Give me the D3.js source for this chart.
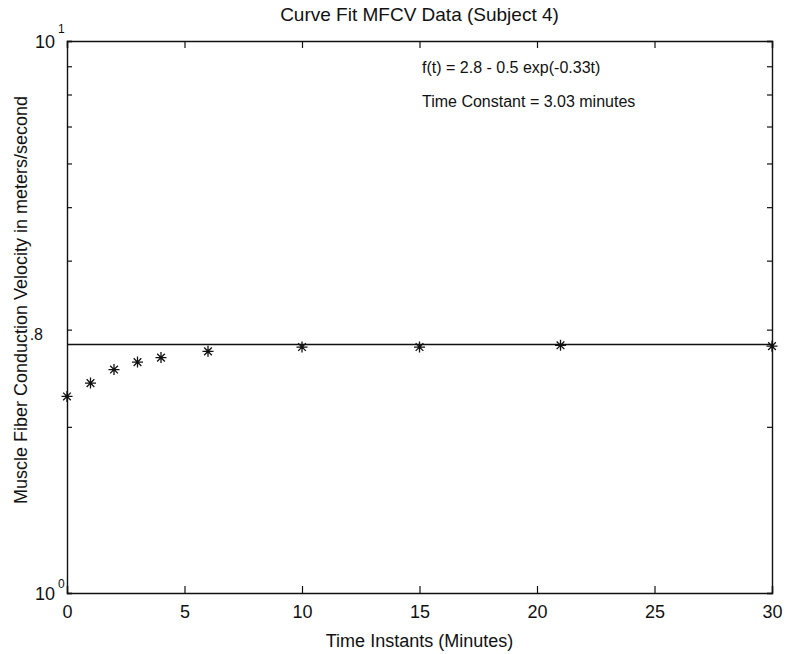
<!DOCTYPE html>
<html><head><meta charset="utf-8">
<script src="https://cdn.jsdelivr.net/npm/d3@7"></script>
<style>body{margin:0;background:#fff;} svg{display:block;} text{font-family:"Liberation Sans",Arial,sans-serif;fill:#111;}</style>
</head><body>
<svg id="c" width="786" height="654"></svg>
<script>
const time = [0, 1, 2, 3, 4, 6, 10, 15, 21, 30];
const mfcv = [2.27, 2.40, 2.54, 2.62, 2.67, 2.74, 2.79, 2.79, 2.81, 2.80];
const fitTime = [0, 30];
const fitValue = [2.82, 2.82];
const xTicks = [0, 5, 10, 15, 20, 25, 30];
const yTicks = [1, 2, 3, 4, 5, 6, 7, 8, 9, 10];
const yMajor = [{v: 1, exp: "0"}, {v: 10, exp: "1"}];
const titleText = "Curve Fit MFCV Data (Subject 4)";
const xLabel = "Time Instants (Minutes)";
const yLabel = "Muscle Fiber Conduction Velocity in meters/second";
const notes = ["f(t) = 2.8 - 0.5 exp(-0.33t)", "Time Constant = 3.03 minutes"];
const markValue = 2.8, markText = ".8";

const svg = d3.select("#c");
svg.append("rect").attr("width",786).attr("height",654).attr("fill","#fff");
const L = 67, R = 772, T = 41, B = 593;
const x = d3.scaleLinear().domain([0, 30]).range([L, R]);
const y = d3.scaleLog().domain([1, 10]).range([B, T]);

// axes with inward ticks
const gB = svg.append("g").attr("transform",`translate(0,${B})`)
  .call(d3.axisBottom(x).tickValues(xTicks).tickSize(-7).tickPadding(12).tickFormat(d3.format("d")));
const gT = svg.append("g").attr("transform",`translate(0,${T})`)
  .call(d3.axisTop(x).tickValues(xTicks).tickSize(-7).tickFormat(""));
const gL = svg.append("g").attr("transform",`translate(${L},0)`)
  .call(d3.axisLeft(y).tickValues(yTicks).tickSize(-5).tickFormat(""));
const gR = svg.append("g").attr("transform",`translate(${R},0)`)
  .call(d3.axisRight(y).tickValues(yTicks).tickSize(-5).tickFormat(""));
[gB,gT,gL,gR].forEach(g=>{
  g.select(".domain").attr("stroke","#111").attr("stroke-width",1.4);
  g.selectAll(".tick line").attr("stroke","#111").attr("stroke-width",1.2);
  g.selectAll("text").attr("font-size",18).attr("font-family",'"Liberation Sans",Arial,sans-serif').attr("fill","#111");
});

// y major labels 10^0, 10^1
yMajor.forEach(m=>{
  svg.append("text").attr("x", L-12).attr("y", y(m.v)+7)
    .attr("text-anchor","end").attr("font-size",18).text("10");
  svg.append("text").attr("x", L-9).attr("y", y(m.v)-(m.v===10?8:5)).attr("font-size",12).text(m.exp);
});

// fitted line
const line = d3.line().x((d,i)=>x(fitTime[i])).y(d=>y(d));
svg.append("path").datum(fitValue).attr("d", line)
  .attr("fill","none").attr("stroke","#111").attr("stroke-width",1.6);

// asterisk markers
const r = 5.5;
const star = `M${-r},0L${r},0M0,${-r}L0,${r}M${-r*0.7},${-r*0.7}L${r*0.7},${r*0.7}M${-r*0.7},${r*0.7}L${r*0.7},${-r*0.7}`;
svg.append("g").selectAll("path").data(mfcv).join("path")
  .attr("transform",(d,i)=>`translate(${x(time[i])},${y(d)})`)
  .attr("d", star).attr("stroke","#111").attr("stroke-width",1.3).attr("fill","none");

// texts
svg.append("text").attr("x",(L+R)/2).attr("y",21).attr("text-anchor","middle").attr("font-size",19).text(titleText);
svg.append("text").attr("x",(L+R)/2).attr("y",647).attr("text-anchor","middle").attr("font-size",18).text(xLabel);
svg.append("text").attr("transform",`translate(27,300) rotate(-90)`).attr("text-anchor","middle").attr("font-size",18).text(yLabel);
notes.forEach((n,i)=>{
  svg.append("text").attr("x",422).attr("y",73+i*34).attr("font-size",16).text(n);
});
svg.append("text").attr("x",43).attr("y",y(markValue)-6).attr("text-anchor","end").attr("font-size",16).text(markText);
</script>
</body></html>
